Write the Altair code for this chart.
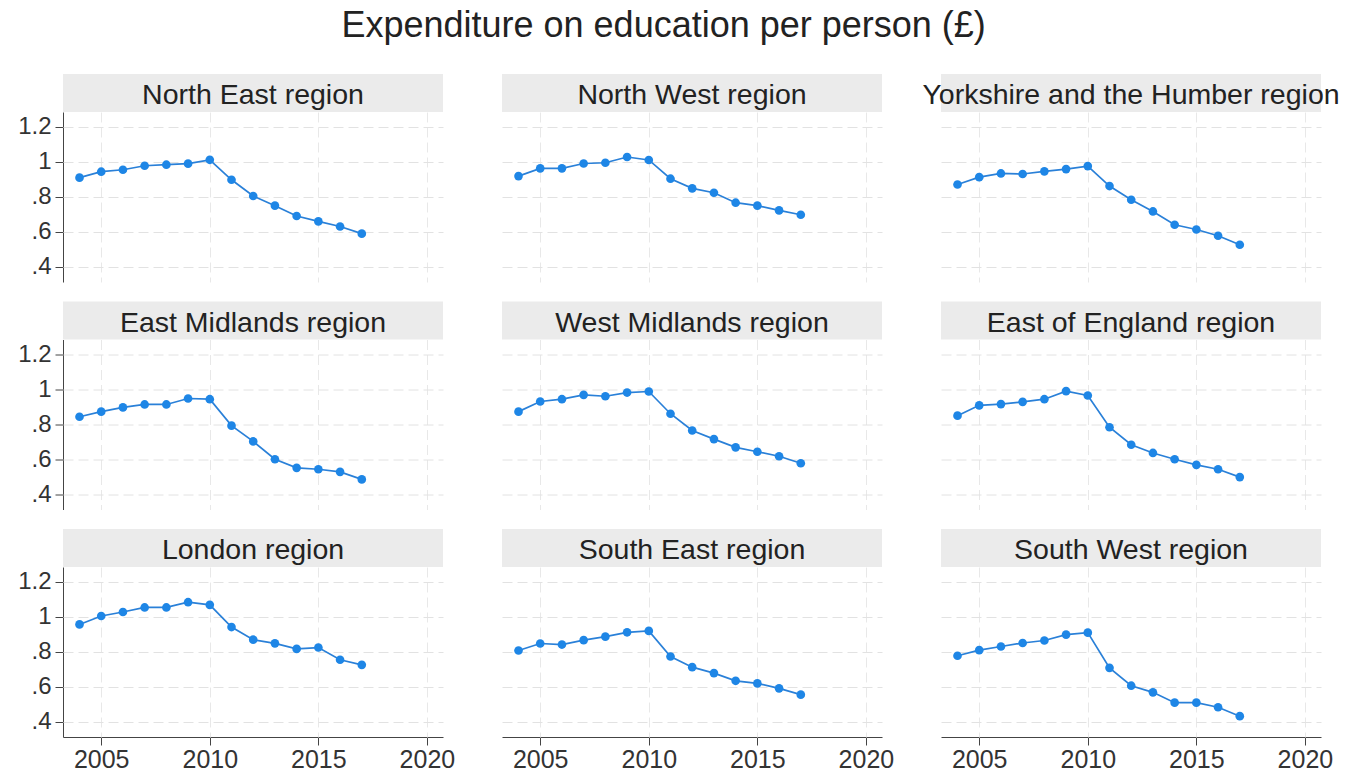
import altair as alt
import pandas as pd

years = list(range(2004, 2018))

regions = [
    "North East region", "North West region", "Yorkshire and the Humber region",
    "East Midlands region", "West Midlands region", "East of England region",
    "London region", "South East region", "South West region",
]

north_east = [0.909, 0.943, 0.954, 0.977, 0.983, 0.989, 1.011, 0.897, 0.804, 0.749, 0.690, 0.659, 0.630, 0.589]
north_west = [0.918, 0.962, 0.962, 0.990, 0.994, 1.027, 1.010, 0.903, 0.848, 0.823, 0.766, 0.749, 0.722, 0.697]
yorkshire = [0.870, 0.912, 0.933, 0.930, 0.945, 0.958, 0.975, 0.861, 0.783, 0.716, 0.640, 0.613, 0.577, 0.526]
east_midlands = [0.843, 0.872, 0.896, 0.913, 0.913, 0.947, 0.943, 0.792, 0.702, 0.600, 0.551, 0.543, 0.528, 0.485]
west_midlands = [0.872, 0.930, 0.943, 0.968, 0.960, 0.981, 0.987, 0.860, 0.764, 0.715, 0.668, 0.643, 0.617, 0.577]
east_england = [0.849, 0.908, 0.915, 0.928, 0.943, 0.989, 0.964, 0.783, 0.683, 0.636, 0.600, 0.568, 0.543, 0.498]
london = [0.956, 1.004, 1.027, 1.053, 1.053, 1.083, 1.068, 0.941, 0.869, 0.848, 0.816, 0.824, 0.754, 0.725]
south_east = [0.807, 0.847, 0.841, 0.866, 0.886, 0.911, 0.919, 0.773, 0.712, 0.678, 0.634, 0.619, 0.591, 0.555]
south_west = [0.777, 0.809, 0.830, 0.850, 0.864, 0.898, 0.909, 0.708, 0.606, 0.568, 0.509, 0.509, 0.483, 0.432]

series = [north_east, north_west, yorkshire, east_midlands, west_midlands,
          east_england, london, south_east, south_west]

x_ticks = [2005, 2010, 2015, 2020]
y_ticks = [0.4, 0.6, 0.8, 1.0, 1.2]

rows = []
for reg, vals in zip(regions, series):
    for yr, v in zip(years, vals):
        rows.append({"region": reg, "year": yr, "value": v})
df = pd.DataFrame(rows)

W, H = 380, 170
STRIP = 38
FONT = "Liberation Sans"
BLUE = "#1e86e6"

x_enc = alt.X("year:Q", title=None,
              scale=alt.Scale(domain=[2003.24, 2020.74], nice=False, zero=False),
              axis=alt.Axis(values=x_ticks, format="d", gridDash=[10, 5], gridColor="#e8e8e8",
                            labelFontSize=25, labelPadding=2))
y_enc = alt.Y("value:Q", title=None,
              scale=alt.Scale(domain=[0.313, 1.284], nice=False, zero=False),
              axis=alt.Axis(values=y_ticks, gridDash=[10, 5], gridColor="#e2e2e2",
                            labelExpr="datum.value < 1 ? slice(format(datum.value, '.1f'), 1) : format(datum.value, '.1~f')"))

base = alt.Chart(df)

line = base.mark_line(color="#2a80d8", strokeWidth=1.7).encode(x=x_enc, y=y_enc)
pts = base.mark_circle(color=BLUE, size=75, opacity=1).encode(x=x_enc, y=y_enc)

strip_rect = base.transform_filter(alt.datum.year == 2004).mark_rect(color="#ebebeb").encode(
    x=alt.value(0), x2=alt.value(W), y=alt.value(-STRIP), y2=alt.value(0))
strip_text = base.transform_filter(alt.datum.year == 2004).mark_text(
    font=FONT, fontSize=28.5, color="#222222", baseline="middle", align="center").encode(
    x=alt.value(W / 2), y=alt.value(-STRIP / 2 + 2), text="region:N")

layer = alt.layer(strip_rect, strip_text, line, pts).properties(width=W, height=H)

chart = layer.facet(
    facet=alt.Facet("region:N", sort=regions,
                    header=alt.Header(labels=False, title=None, labelPadding=0, labelExpr="''")),
    columns=3,
    spacing={"row": 57.5, "column": 59},
    bounds="flush",
).properties(
    title=alt.Title("Expenditure on education per person (£)", fontSize=36, font=FONT,
                    fontWeight="normal", color="#222222", anchor="middle", offset=19, dx=-15),
    padding={"left": 17, "top": 8, "right": 5, "bottom": 5},
    background="white",
).configure_view(stroke=None).configure_axis(
    labelFont=FONT, labelFontSize=24, labelColor="#333333",
    domainColor="#444444", tickColor="#444444", tickSize=8, labelPadding=4,
).configure_header(labels=False, labelPadding=0, titlePadding=0)

chart.save("out.html", embed_options={"renderer": "svg", "actions": False})
